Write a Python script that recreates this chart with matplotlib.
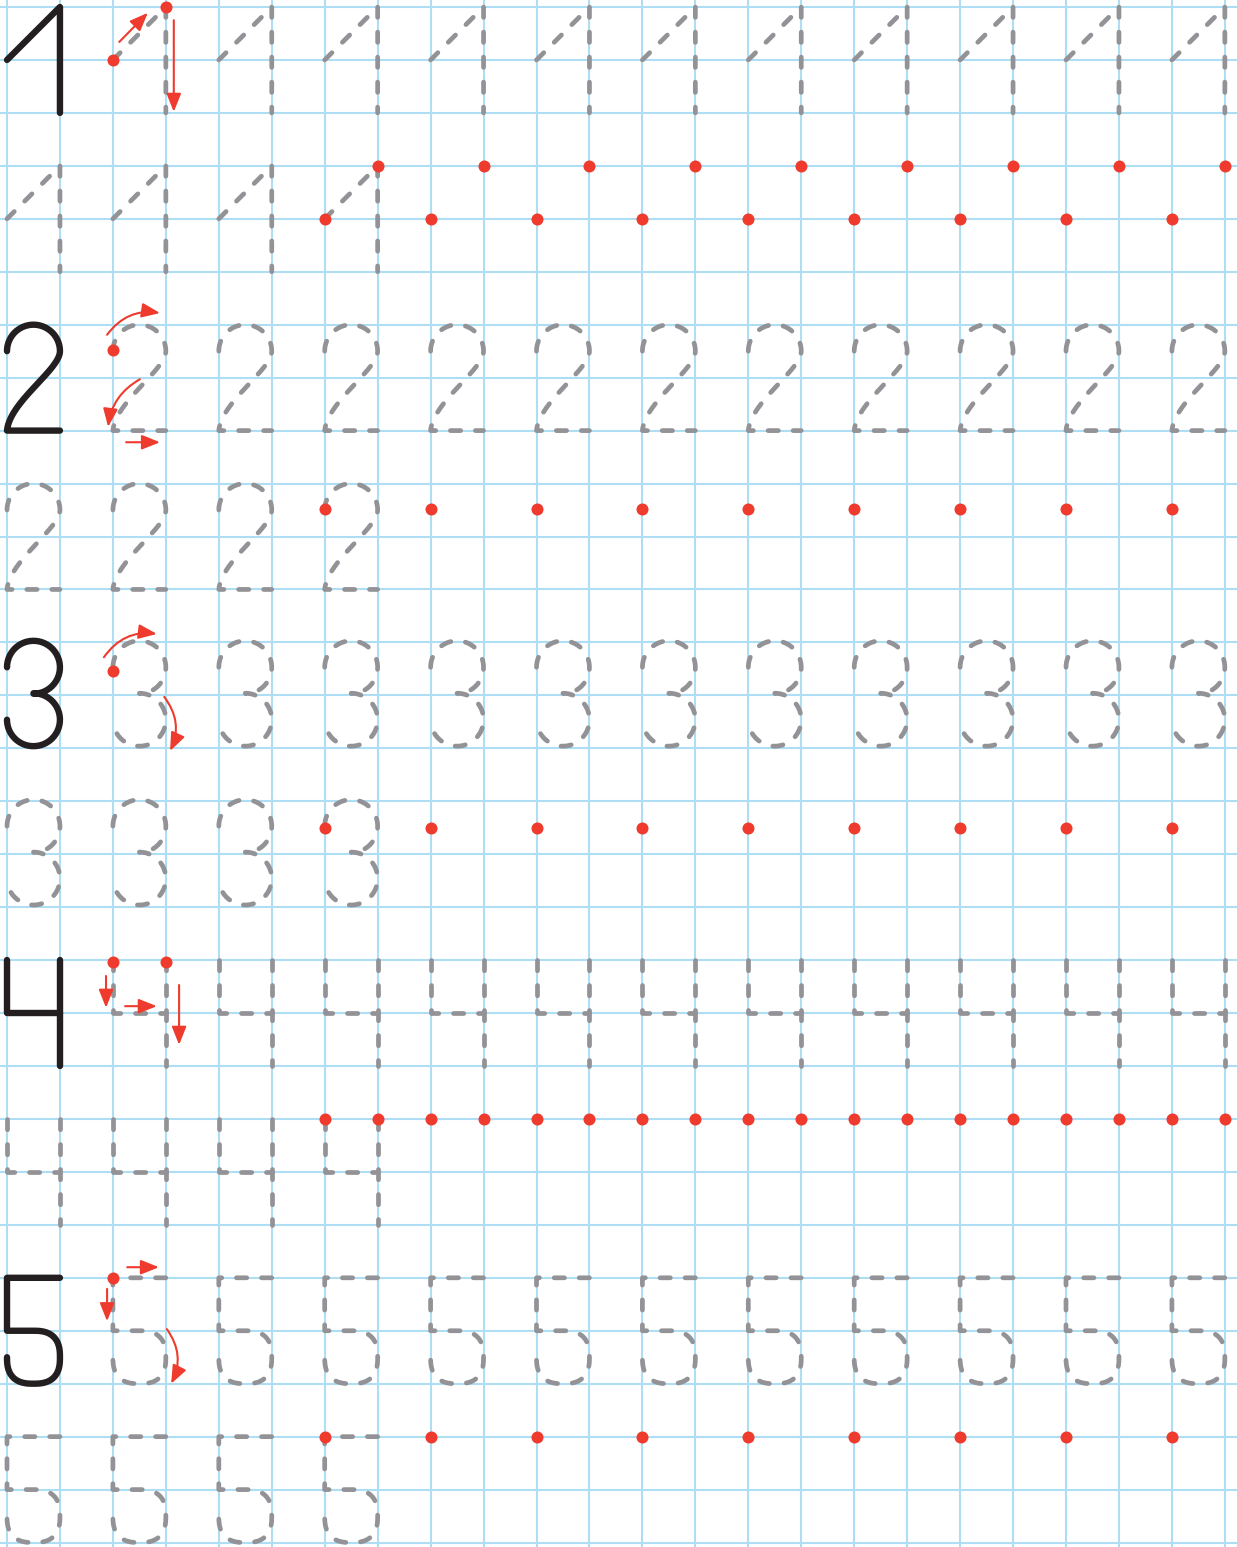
import numpy as np
import matplotlib
matplotlib.use("Agg")
import matplotlib.pyplot as plt
from matplotlib.patches import FancyArrowPatch

plt.rcParams["lines.scale_dashes"] = False

W, H = 1237, 1547
CELL = 52.95          # px per grid square
X0 = Y0 = 7           # px of first grid line

GRID_BLUE = "#addef3"
GRAY = "#939397"
INK = "#231f20"
RED = "#ee3b2d"

## worksheet layout, in grid squares
DIGITS = [1, 2, 3, 4, 5]
BAND_TOP = [0, 6, 12, 18, 24]              # top row of each digit band
ROW_A_COLS = list(range(2, 23, 2))         # traced digits beside the model
ROW_B_COLS = [0, 2, 4, 6]                  # traced digits on the second line
N_COLS, N_ROWS = 24, 30

## start dots on the second line: (columns, row offset inside band)
DOTS = {
    1: [(list(range(6, 23, 2)), 4), (list(range(7, 24, 2)), 3)],
    2: [(list(range(6, 23, 2)), 9.48 - 6)],
    3: [(list(range(6, 23, 2)), 3.5)],
    4: [(list(range(6, 24)), 3)],
    5: [(list(range(6, 23, 2)), 3)],
}
## dots on the first traced digit (u, v inside the digit)
FIRST_DOTS = {1: [(0, 1), (1, 0)], 2: [(0, 0.48)], 3: [(0, 0.54)],
              4: [(0, 0.03), (1, 0.03)], 5: [(0, 0)]}

## stroke arrows on the first traced digit: (start, end, rad)
ARROWS = {
    1: [((0.12, 0.66), (0.66, 0.11), 0), ((1.15, 0.25), (1.15, 1.98), 0)],
    2: [((-0.11, 0.19), (0.89, -0.22), -0.3),
        ((0.51, 1.03), (-0.09, 1.93), 0.25),
        ((0.25, 2.22), (0.89, 2.22), 0)],
    3: [((-0.17, 0.28), (0.83, -0.16), -0.3),
        ((0.97, 1.03), (1.08, 2.05), -0.3)],
    4: [((-0.13, 0.30), (-0.13, 0.90), 0),
        ((0.23, 0.87), (0.83, 0.87), 0),
        ((1.25, 0.47), (1.25, 1.60), 0)],
    5: [((0.27, -0.2), (0.87, -0.2), 0),
        ((-0.11, 0.21), (-0.11, 0.82), 0),
        ((1.02, 0.97), (1.10, 2.00), -0.3)],
}


def arc(cx, cy, r, t0, t1, p=2.0, n=80):
    t = np.radians(np.linspace(t0, t1, n))
    c, s = np.cos(t), np.sin(t)
    x = cx + r * np.sign(c) * np.abs(c) ** (2 / p)
    y = cy - r * np.sign(s) * np.abs(s) ** (2 / p)
    return np.column_stack([x, y])


def bezier(p0, p1, p2, p3, n=60):
    t = np.linspace(0, 1, n)[:, None]
    p0, p1, p2, p3 = map(np.asarray, (p0, p1, p2, p3))
    return ((1 - t) ** 3 * p0 + 3 * (1 - t) ** 2 * t * p1
            + 3 * (1 - t) * t ** 2 * p2 + t ** 3 * p3)


def shape(d):
    if d == 1:
        return [np.array([(0, 1), (1, 0), (1, 2)])]
    if d == 2:
        top = arc(0.5, 0.5, 0.5, 180, 0)
        neck = bezier((1, 0.5), (1, 0.85), (0.05, 1.45), (0, 2))
        return [np.vstack([top, neck, [(1.0, 2.0)]])]
    if d == 3:
        return [np.vstack([arc(0.5, 0.47, 0.5, 180, -90),
                           arc(0.5, 1.46, 0.5, 90, -180)])]
    if d == 4:
        return [np.array([(0, 0), (0, 1), (1, 1)]), np.array([(1, 0), (1, 2)])]
    if d == 5:
        bowl = arc(0.5, 1.5, 0.5, 90, -180, p=2.6)
        return [np.vstack([[(1, 0), (0, 0), (0, 1)], bowl])]


fig = plt.figure(figsize=(W / 100, H / 100), dpi=100)
ax = fig.add_axes([0, 0, 1, 1])
ax.set_xlim(-X0 / CELL, (W - X0) / CELL)
ax.set_ylim((H - Y0) / CELL, -Y0 / CELL)
ax.axis("off")

for c in range(N_COLS):
    ax.axvline(c, color=GRID_BLUE, lw=1.5, zorder=1)
for r in range(N_ROWS):
    ax.axhline(r, color=GRID_BLUE, lw=1.5, zorder=1)


def draw(d, col, row, solid=False):
    for seg in shape(d):
        x, y = seg[:, 0] + col, seg[:, 1] + row
        if solid:
            ax.plot(x, y, color=INK, lw=4.6, solid_capstyle="round",
                    solid_joinstyle="round", zorder=3)
        else:
            ax.plot(x, y, color=GRAY, lw=3.4, dashes=(7.4, 10.6),
                    dash_capstyle="round", dash_joinstyle="round", zorder=2)


for d, top in zip(DIGITS, BAND_TOP):
    draw(d, 0, top, solid=True)
    for c in ROW_A_COLS:
        draw(d, c, top)
    for c in ROW_B_COLS:
        draw(d, c, top + 3)

    for cols, dv in DOTS[d]:
        ax.scatter(cols, [top + dv] * len(cols), s=75, color=RED,
                   linewidths=0, zorder=4)
    fd = FIRST_DOTS[d]
    ax.scatter([2 + u for u, v in fd], [top + v for u, v in fd], s=75,
               color=RED, linewidths=0, zorder=4)

    for (u0, v0), (u1, v1), rad in ARROWS[d]:
        arr = FancyArrowPatch((2 + u0, top + v0), (2 + u1, top + v1),
                              arrowstyle="-|>,head_length=0.55,head_width=0.22",
                              connectionstyle=f"arc3,rad={rad}",
                              mutation_scale=20, color=RED, lw=1.5,
                              shrinkA=0, shrinkB=0, zorder=4)
        ax.add_patch(arr)

fig.savefig("out.png", dpi=100, facecolor="white")
